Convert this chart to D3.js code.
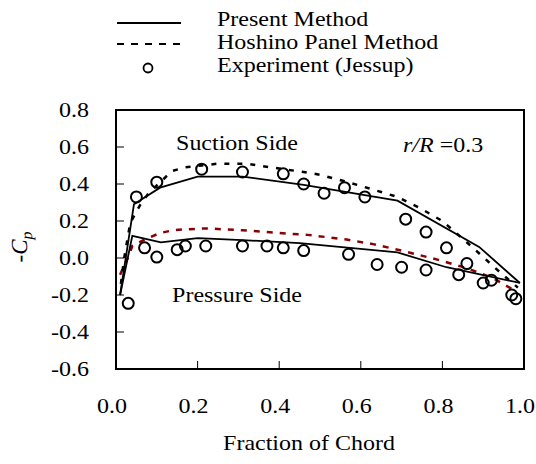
<!DOCTYPE html>
<html>
<head>
<meta charset="utf-8">
<script src="https://cdn.jsdelivr.net/npm/d3@7"></script>
<style>
  body { margin: 0; background: #fff; -webkit-font-smoothing: antialiased; }
  svg text { font-family: "Liberation Serif", "Times New Roman", serif; fill: #000; }
</style>
</head>
<body>
<div id="chart"></div>
<script>
// chord fraction / -Cp values
var presentSuctionX = [0.01, 0.044, 0.108, 0.20, 0.31, 0.46, 0.69, 0.89, 0.99];
var presentSuctionY = [-0.20, 0.29, 0.38, 0.44, 0.44, 0.395, 0.31, 0.06, -0.135];

var presentPressureX = [0.01, 0.04, 0.11, 0.20, 0.31, 0.45, 0.69, 0.81, 0.99];
var presentPressureY = [-0.20, 0.12, 0.085, 0.107, 0.097, 0.08, 0.03, -0.05, -0.135];

var hoshinoSuctionX = [0.012, 0.02, 0.035, 0.06, 0.08, 0.137, 0.17, 0.21, 0.25, 0.32, 0.41, 0.46, 0.50, 0.56, 0.63, 0.69, 0.745, 0.80, 0.87, 0.94, 0.985];
var hoshinoSuctionY = [-0.14, 0.0, 0.19, 0.29, 0.35, 0.47, 0.49, 0.50, 0.51, 0.51, 0.48, 0.465, 0.45, 0.415, 0.37, 0.33, 0.27, 0.20, 0.065, -0.075, -0.16];

var hoshinoPressureX = [0.01, 0.017, 0.03, 0.04, 0.07, 0.108, 0.14, 0.17, 0.22, 0.31, 0.37, 0.43, 0.47, 0.565, 0.63, 0.70, 0.79, 0.86, 0.925, 0.98];
var hoshinoPressureY = [-0.09, -0.055, 0.005, 0.065, 0.10, 0.135, 0.15, 0.155, 0.16, 0.15, 0.14, 0.13, 0.125, 0.10, 0.075, 0.04, -0.01, -0.055, -0.11, -0.18];

var expSuctionX = [0.05, 0.10, 0.21, 0.31, 0.41, 0.46, 0.51, 0.56, 0.61, 0.71, 0.76, 0.81, 0.86, 0.92, 0.97];
var expSuctionY = [0.33, 0.41, 0.48, 0.465, 0.455, 0.40, 0.35, 0.38, 0.33, 0.21, 0.14, 0.055, -0.03, -0.12, -0.20];

var expPressureX = [0.03, 0.07, 0.10, 0.15, 0.17, 0.22, 0.31, 0.37, 0.41, 0.46, 0.57, 0.64, 0.70, 0.76, 0.84, 0.90, 0.98];
var expPressureY = [-0.245, 0.055, 0.005, 0.045, 0.065, 0.065, 0.065, 0.065, 0.055, 0.04, 0.02, -0.035, -0.05, -0.065, -0.09, -0.135, -0.22];

var xTicks = [0.0, 0.2, 0.4, 0.6, 0.8, 1.0];
var yTicks = [-0.6, -0.4, -0.2, 0.0, 0.2, 0.4, 0.6, 0.8];

var legendLabels = ["Present Method", "Hoshino Panel Method", "Experiment (Jessup)"];

var width = 536, height = 464;
var mLeft = 116, mRight = 524, mTop = 110, mBottom = 369;

var svg = d3.select("#chart").append("svg")
    .attr("width", width)
    .attr("height", height);

var x = d3.scaleLinear().domain([0, 1]).range([mLeft, mRight]);
var y = d3.scaleLinear().domain([-0.6, 0.8]).range([mBottom, mTop]);

var fmt = function(d) { return d3.format(".1f")(d).replace("\u2212", "-"); };

// the reference type is a bit wider than Liberation Serif, so stretch it
var stretch = function(px, py) { return "translate(" + px + "," + py + ") scale(1.2,1)"; };

// tick marks (inside, interior only)
svg.append("g").selectAll("line")
    .data(xTicks.slice(1, -1))
  .enter().append("line")
    .attr("x1", function(d) { return x(d); })
    .attr("x2", function(d) { return x(d); })
    .attr("y1", mBottom)
    .attr("y2", mBottom - 8)
    .attr("stroke", "#000")
    .attr("stroke-width", 1);

svg.append("g").selectAll("line")
    .data(yTicks.slice(1, -1))
  .enter().append("line")
    .attr("x1", mLeft)
    .attr("x2", mLeft + 8)
    .attr("y1", function(d) { return y(d); })
    .attr("y2", function(d) { return y(d); })
    .attr("stroke", "#000")
    .attr("stroke-width", 1);

// tick labels
svg.append("g").selectAll("text")
    .data(xTicks)
  .enter().append("text")
    .attr("transform", function(d) { return stretch(x(d) - 4, 413); })
    .attr("text-anchor", "middle")
    .style("font-size", "20px")
    .text(fmt);

svg.append("g").selectAll("text")
    .data(yTicks)
  .enter().append("text")
    .attr("transform", function(d) { return stretch(89, y(d) + 7); })
    .attr("text-anchor", "end")
    .style("font-size", "20px")
    .text(fmt);

// frame
svg.append("rect")
    .attr("x", mLeft)
    .attr("y", mTop)
    .attr("width", mRight - mLeft)
    .attr("height", mBottom - mTop)
    .attr("fill", "none")
    .attr("stroke", "#000")
    .attr("stroke-width", 2);

var line = d3.line()
    .x(function(d) { return x(d[0]); })
    .y(function(d) { return y(d[1]); });

var zip = function(a, b) { return a.map(function(v, i) { return [v, b[i]]; }); };

// Hoshino panel method (dashed)
svg.append("path")
    .datum(zip(hoshinoPressureX, hoshinoPressureY))
    .attr("d", line)
    .attr("fill", "none")
    .attr("stroke", "#8b0000")
    .attr("stroke-width", 2.5)
    .attr("stroke-dasharray", "6,7");

svg.append("path")
    .datum(zip(hoshinoSuctionX, hoshinoSuctionY))
    .attr("d", line)
    .attr("fill", "none")
    .attr("stroke", "#000")
    .attr("stroke-width", 2.5)
    .attr("stroke-dasharray", "5,8");

// present method (solid)
[zip(presentSuctionX, presentSuctionY), zip(presentPressureX, presentPressureY)].forEach(function(pts) {
  svg.append("path")
      .datum(pts)
      .attr("d", line)
      .attr("fill", "none")
      .attr("stroke", "#000")
      .attr("stroke-width", 1.8);
});

// experiment circles
svg.append("g").selectAll("circle")
    .data(zip(expSuctionX, expSuctionY).concat(zip(expPressureX, expPressureY)))
  .enter().append("circle")
    .attr("cx", function(d) { return x(d[0]); })
    .attr("cy", function(d) { return y(d[1]); })
    .attr("r", 5.5)
    .attr("fill", "none")
    .attr("stroke", "#000")
    .attr("stroke-width", 2);

// annotations
svg.append("text")
    .attr("transform", stretch(237, 150))
    .attr("text-anchor", "middle")
    .style("font-size", "20px")
    .text("Suction Side");

svg.append("text")
    .attr("transform", stretch(237, 302))
    .attr("text-anchor", "middle")
    .style("font-size", "20px")
    .text("Pressure Side");

var rr = svg.append("text")
    .attr("transform", stretch(403, 152))
    .style("font-size", "20px");
rr.append("tspan").style("font-style", "italic").text("r/R");
rr.append("tspan").text(" =0.3");

// axis titles
svg.append("text")
    .attr("transform", stretch(309, 450))
    .attr("text-anchor", "middle")
    .style("font-size", "20px")
    .text("Fraction of Chord");

var yl = svg.append("text")
    .attr("transform", "translate(27,247) rotate(-90)")
    .attr("text-anchor", "middle")
    .style("font-size", "23px")
    .style("text-rendering", "geometricPrecision");
yl.append("tspan").text("-");
yl.append("tspan").style("font-style", "italic").text("C");
yl.append("tspan").style("font-style", "italic").style("font-size", "16px").attr("dy", 5).text("p");

// legend
var lg = svg.append("g");
lg.append("line")
    .attr("x1", 117).attr("x2", 181).attr("y1", 23).attr("y2", 23)
    .attr("stroke", "#000").attr("stroke-width", 2);
lg.append("line")
    .attr("x1", 117).attr("x2", 181).attr("y1", 44).attr("y2", 44)
    .attr("stroke", "#000").attr("stroke-width", 2)
    .attr("stroke-dasharray", "7,7");
lg.append("circle")
    .attr("cx", 148).attr("cy", 68).attr("r", 4.5)
    .attr("fill", "none").attr("stroke", "#000").attr("stroke-width", 1.8);

lg.selectAll("text.lab")
    .data(legendLabels)
  .enter().append("text")
    .attr("class", "lab")
    .attr("transform", function(d, i) { return stretch(217, 26 + i * 23); })
    .style("font-size", "20px")
    .text(function(d) { return d; });
</script>
</body>
</html>
